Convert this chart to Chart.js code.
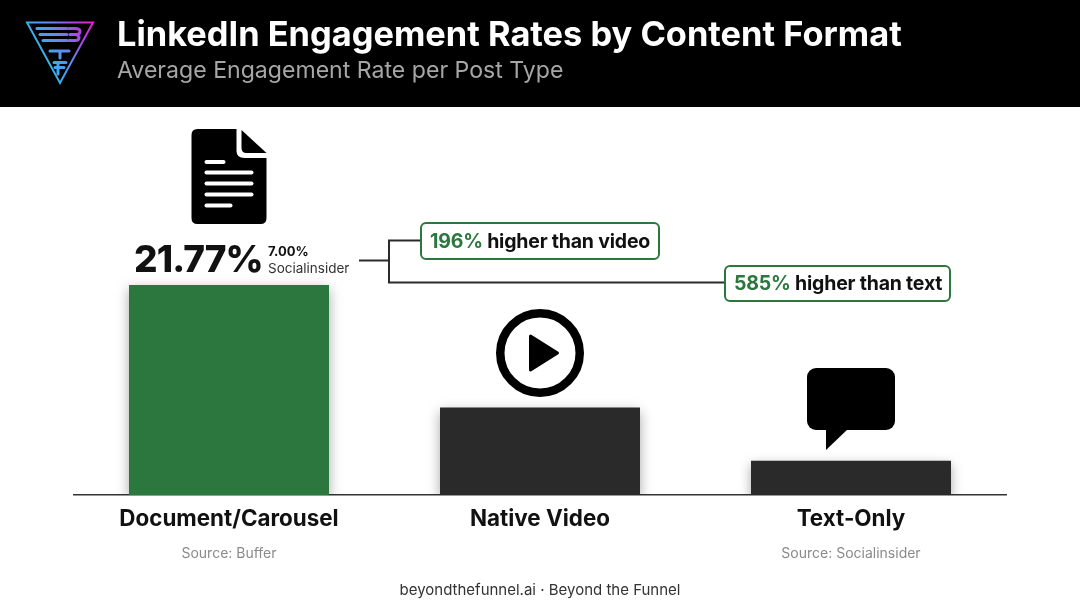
<!DOCTYPE html>
<html>
<head>
<meta charset="utf-8">
<title>LinkedIn Engagement Rates by Content Format</title>
<script src="https://cdn.jsdelivr.net/npm/chart.js@4/dist/chart.umd.min.js"></script>
<style>
html, body { margin: 0; padding: 0; background: #fff; }
canvas { display: block; }
</style>
</head>
<body>
<canvas id="grafico" width="1080" height="603"></canvas>
<script>
const categories = ['Document/Carousel', 'Native Video', 'Text-Only'];
const engagement = [21.77, 9.06, 3.54];
const sources = ['Source: Buffer', '', 'Source: Socialinsider'];

const GREEN = '#2b773d';
const DARK = '#2a2a2a';
const FONT = 'Inter, "Noto Sans", sans-serif';

const rr = (ctx, x, y, w, h, r) => {
    ctx.beginPath();
    ctx.roundRect(x, y, w, h, r);
};

const drawText = (ctx, text, x, y, font, color, align = 'left', spacing = '0px') => {
    ctx.font = font;
    ctx.fillStyle = color;
    ctx.textAlign = align;
    ctx.textBaseline = 'middle';
    ctx.letterSpacing = spacing;
    ctx.fillText(text, x, y);
    ctx.letterSpacing = '0px';
};

const drawLogo = (ctx) => {
    const g = ctx.createLinearGradient(30, 60, 92, 25);
    g.addColorStop(0, '#20c8e8');
    g.addColorStop(0.5, '#5f8cf2');
    g.addColorStop(0.8, '#b23fe6');
    g.addColorStop(1, '#e61fd6');
    ctx.strokeStyle = g;
    ctx.lineWidth = 2;
    ctx.beginPath();
    ctx.moveTo(27, 22.5);
    ctx.lineTo(93, 22.5);
    ctx.lineTo(60, 83);
    ctx.closePath();
    ctx.stroke();
    ctx.lineWidth = 3;
    ctx.lineCap = 'round';
    // stripes + B
    [[37, 67, 28.5], [40, 67, 34.5], [43, 67, 40.5]].forEach(([x1, x2, y]) => {
        ctx.beginPath();
        ctx.moveTo(x1, y);
        ctx.lineTo(x2, y);
        ctx.stroke();
    });
    ctx.beginPath();
    ctx.moveTo(69, 28.5);
    ctx.lineTo(75, 28.5);
    ctx.quadraticCurveTo(80, 28.5, 80, 31.5);
    ctx.quadraticCurveTo(80, 34.5, 75, 34.5);
    ctx.lineTo(70, 34.5);
    ctx.moveTo(75, 34.5);
    ctx.quadraticCurveTo(79, 34.5, 79, 37.5);
    ctx.quadraticCurveTo(79, 40.5, 75, 40.5);
    ctx.lineTo(69, 40.5);
    ctx.stroke();
    // T
    ctx.beginPath();
    ctx.moveTo(50, 51);
    ctx.lineTo(69, 51);
    ctx.moveTo(60, 51);
    ctx.lineTo(60, 58);
    ctx.stroke();
    // F
    ctx.beginPath();
    ctx.moveTo(54, 62.5);
    ctx.lineTo(66, 62.5);
    ctx.moveTo(55, 67.5);
    ctx.lineTo(64, 67.5);
    ctx.moveTo(58, 62.5);
    ctx.lineTo(58, 74);
    ctx.stroke();
    ctx.lineCap = 'butt';
};

const drawDocIcon = (ctx, cx) => {
    const l = cx - 37.5;
    ctx.fillStyle = '#000';
    ctx.beginPath();
    ctx.moveTo(l + 6, 129);
    ctx.lineTo(l + 45, 129);
    ctx.lineTo(l + 45, 151);
    ctx.quadraticCurveTo(l + 45, 158, l + 53, 158);
    ctx.lineTo(l + 75, 158);
    ctx.lineTo(l + 75, 218);
    ctx.quadraticCurveTo(l + 75, 224, l + 69, 224);
    ctx.lineTo(l + 6, 224);
    ctx.quadraticCurveTo(l, 224, l, 218);
    ctx.lineTo(l, 135);
    ctx.quadraticCurveTo(l, 129, l + 6, 129);
    ctx.fill();
    ctx.beginPath();
    ctx.moveTo(l + 50, 130);
    ctx.lineTo(l + 75, 153);
    ctx.lineTo(l + 55, 153);
    ctx.quadraticCurveTo(l + 50, 153, l + 50, 148);
    ctx.closePath();
    ctx.fill();
    ctx.fillStyle = '#fff';
    [[162, 21], [172.5, 49], [183.5, 49], [194.5, 49], [205.5, 28]].forEach(([y, w]) => {
        rr(ctx, l + 13, y - 2, w, 4, 2);
        ctx.fill();
    });
};

const drawPlayIcon = (ctx, cx) => {
    ctx.strokeStyle = '#000';
    ctx.lineWidth = 8.5;
    ctx.beginPath();
    ctx.arc(cx, 353, 39.75, 0, Math.PI * 2);
    ctx.stroke();
    ctx.fillStyle = '#000';
    ctx.strokeStyle = '#000';
    ctx.lineWidth = 3;
    ctx.lineJoin = 'round';
    ctx.beginPath();
    ctx.moveTo(cx - 9.5, 336);
    ctx.lineTo(cx + 17.5, 353);
    ctx.lineTo(cx - 9.5, 370);
    ctx.closePath();
    ctx.fill();
    ctx.stroke();
    ctx.lineJoin = 'miter';
};

const drawChatIcon = (ctx, cx) => {
    const l = cx - 44;
    ctx.fillStyle = '#000';
    rr(ctx, l, 368, 88, 62, 9);
    ctx.fill();
    ctx.beginPath();
    ctx.moveTo(l + 19, 428);
    ctx.lineTo(l + 19, 450);
    ctx.lineTo(l + 42, 428);
    ctx.closePath();
    ctx.fill();
};

const drawCallout = (ctx, x, y, w, h, pct, rest) => {
    ctx.fillStyle = '#fff';
    ctx.strokeStyle = GREEN;
    ctx.lineWidth = 2;
    rr(ctx, x, y, w, h, 5);
    ctx.fill();
    ctx.stroke();
    const font = '700 19.5px ' + FONT;
    const ty = y + h / 2 + 1;
    drawText(ctx, pct, x + 9, ty, font, GREEN, 'left', '-0.2px');
    ctx.letterSpacing = '-0.2px';
    const pw = ctx.measureText(pct + ' ').width;
    ctx.letterSpacing = '0px';
    drawText(ctx, rest, x + 9 + pw, ty, font, '#111', 'left', '-0.2px');
};

// bar shadow, only while the dataset is painted
const barShadow = {
    id: 'barShadow',
    beforeDatasetDraw(chart) {
        const c = chart.ctx;
        c.save();
        c.shadowColor = 'rgba(0,0,0,0.35)';
        c.shadowBlur = 12;
        c.shadowOffsetY = 4;
    },
    afterDatasetDraw(chart) {
        chart.ctx.restore();
    }
};

const decoration = {
    id: 'decoration',
    beforeDraw(chart) {
        const c = chart.ctx;
        c.save();
        c.fillStyle = '#fff';
        c.fillRect(0, 0, chart.width, chart.height);
        c.fillStyle = '#000';
        c.fillRect(0, 0, chart.width, 107);
        drawLogo(c);
        drawText(c, 'LinkedIn Engagement Rates by Content Format', 117, 35.5, '700 34.4px ' + FONT, '#fff');
        drawText(c, 'Average Engagement Rate per Post Type', 117, 71, '400 23.1px ' + FONT, '#a6a6a6');
        c.restore();
    },
    afterDraw(chart) {
        const c = chart.ctx;
        const x = chart.scales.x;
        const cx = categories.map((_, i) => x.getPixelForValue(i));
        c.save();
        drawDocIcon(c, cx[0]);
        drawPlayIcon(c, cx[1]);
        drawChatIcon(c, cx[2]);

        drawText(c, '21.77%', 134, 261, '800 37px ' + FONT, '#111', 'left', '-0.9px');
        drawText(c, '7.00%', 268, 252.5, '700 13px ' + FONT, '#111');
        drawText(c, 'Socialinsider', 268, 268.5, '400 13.5px ' + FONT, '#333');

        // connector between the big number and the two callouts
        c.strokeStyle = '#2b2b2b';
        c.lineWidth = 2;
        c.beginPath();
        c.moveTo(359, 260.5);
        c.lineTo(389, 260.5);
        c.moveTo(421, 240.5);
        c.lineTo(389, 240.5);
        c.lineTo(389, 282.5);
        c.lineTo(725, 282.5);
        c.stroke();
        drawCallout(c, 421, 223, 238, 36, '196%', 'higher than video');
        drawCallout(c, 725, 266, 225, 35, '585%', 'higher than text');

        sources.forEach((s, i) => {
            if (s) drawText(c, s, cx[i], 554, '400 14px ' + FONT, '#8a8a8a', 'center');
        });
        drawText(c, 'beyondthefunnel.ai · Beyond the Funnel', 540, 590, '400 15px ' + FONT, '#333', 'center');
        c.restore();
    }
};

const ctx = document.getElementById('grafico').getContext('2d');

const grafico = new Chart(ctx, {
    type: 'bar',
    data: {
        labels: categories,
        datasets: [{
            data: engagement,
            backgroundColor: [GREEN, DARK, DARK],
            barPercentage: 200 / 311,
            categoryPercentage: 1
        }]
    },
    options: {
        responsive: false,
        animation: false,
        devicePixelRatio: 1,
        layout: { padding: { left: 73.5, right: 73.5, top: 109, bottom: 0 } },
        plugins: {
            legend: { display: false },
            tooltip: { enabled: false }
        },
        scales: {
            x: {
                grid: { display: false, drawTicks: false },
                border: { color: '#333', width: 1.5 },
                ticks: {
                    color: '#111',
                    font: { family: FONT, size: 22.4, weight: '700' },
                    padding: 11,
                    maxRotation: 0
                },
                afterFit(scale) { scale.height = 108; }
            },
            y: {
                display: false,
                min: 0,
                max: 40,
                grid: { display: false }
            }
        }
    },
    plugins: [decoration, barShadow]
});
</script>
</body>
</html>
